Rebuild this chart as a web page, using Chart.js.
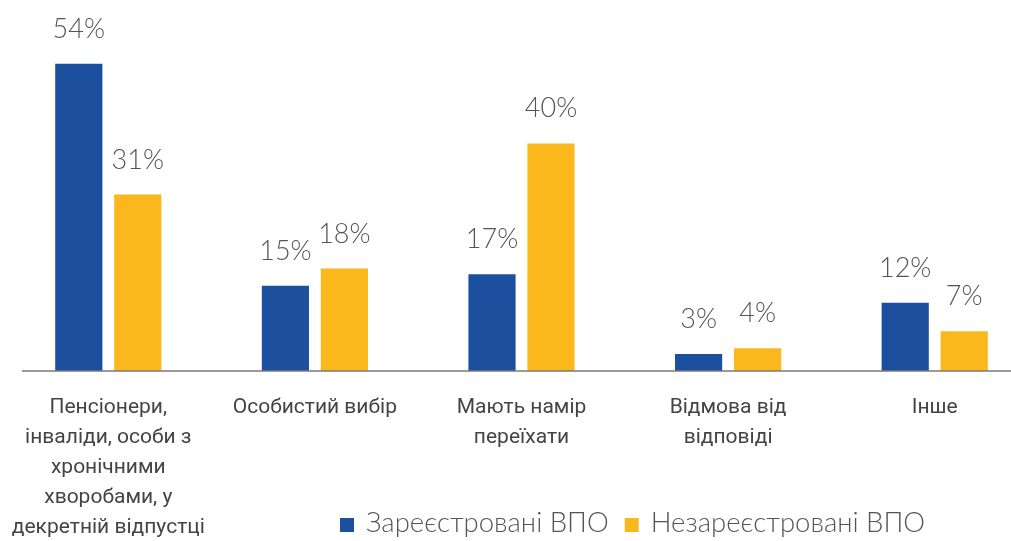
<!DOCTYPE html>
<html>
<head>
<meta charset="utf-8">
<style>
  html, body { margin: 0; padding: 0; background: #fff; overflow: hidden; }
  #wrap { width: 1045px; height: 541px; }
</style>
</head>
<body>
<div id="wrap">
  <canvas id="vpoChart" width="1045" height="541"></canvas>
</div>

<script src="https://cdn.jsdelivr.net/npm/chart.js"></script>
<script>
const categories = [
  ['Пенсіонери,', 'інваліди, особи з', 'хронічними', 'хворобами, у', 'декретній відпустці'],
  ['Особистий вибір'],
  ['Мають намір', 'переїхати'],
  ['Відмова від', 'відповіді'],
  ['Інше']
];
const registered = [54, 15, 17, 3, 12];
const unregistered = [31, 18, 40, 4, 7];
const seriesNames = ['Зареєстровані ВПО', 'Незареєстровані ВПО'];

const BLUE = '#1d4f9f';
const YELLOW = '#fbb81c';
const lightFont = '"Lato", "Open Sans", "Noto Sans", sans-serif';

// value labels above bars
const valueLabels = {
  id: 'valueLabels',
  afterDatasetsDraw(chart) {
    const ctx = chart.ctx;
    ctx.save();
    ctx.font = '300 27px ' + lightFont;
    ctx.fillStyle = '#555';
    ctx.textAlign = 'center';
    ctx.textBaseline = 'alphabetic';
    chart.data.datasets.forEach((ds, i) => {
      chart.getDatasetMeta(i).data.forEach((bar, j) => {
        ctx.fillText(ds.data[j] + '%', bar.x, bar.y - 26);
      });
    });
    ctx.restore();
  }
};

// baseline + legend under the chart
const extras = {
  id: 'extras',
  afterDraw(chart) {
    const ctx = chart.ctx;
    const y0 = chart.chartArea.bottom;
    ctx.save();
    ctx.strokeStyle = '#7a7a7a';
    ctx.lineWidth = 1.5;
    ctx.beginPath();
    ctx.moveTo(22, y0);
    ctx.lineTo(chart.width, y0);
    ctx.stroke();

    ctx.font = '300 27.5px ' + lightFont;
    ctx.textBaseline = 'alphabetic';
    let x = 340;
    const colors = [BLUE, YELLOW];
    seriesNames.forEach((name, i) => {
      ctx.fillStyle = colors[i];
      ctx.fillRect(x, 518, 14, 14);
      ctx.fillStyle = '#555';
      ctx.fillText(name, x + 26, 532);
      x += 26 + ctx.measureText(name).width + 16;
    });
    ctx.restore();
  }
};

new Chart(document.getElementById('vpoChart').getContext('2d'), {
  type: 'bar',
  data: {
    labels: categories,
    datasets: [
      { label: seriesNames[0], data: registered, backgroundColor: BLUE },
      { label: seriesNames[1], data: unregistered, backgroundColor: YELLOW }
    ]
  },
  options: {
    responsive: false,
    animation: false,
    events: [],
    layout: { padding: { left: 5, right: 7, top: 0, bottom: 0 } },
    datasets: {
      bar: { categoryPercentage: 0.571, barPercentage: 0.8 }
    },
    plugins: {
      legend: { display: false },
      tooltip: { enabled: false }
    },
    scales: {
      x: {
        grid: { display: false, drawTicks: false },
        border: { display: false },
        ticks: {
          maxRotation: 0,
          autoSkip: false,
          padding: 22,
          color: '#444',
          font: { family: 'Roboto, "Liberation Sans", sans-serif', size: 21, lineHeight: '30px' }
        },
        afterFit(scale) {
          scale.height = 170;
          scale.paddingLeft = 0;
          scale.paddingRight = 0;
        }
      },
      y: {
        display: false,
        min: 0,
        max: 65.2
      }
    }
  },
  plugins: [valueLabels, extras]
});
</script>
</body>
</html>
